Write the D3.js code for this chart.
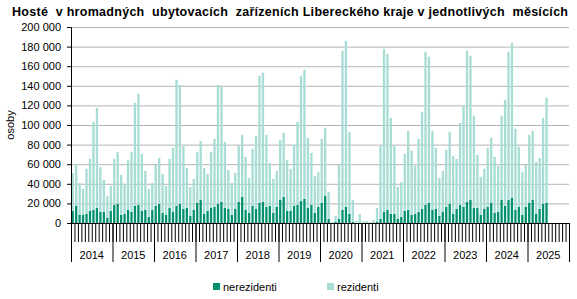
<!DOCTYPE html>
<html>
<head>
<meta charset="utf-8">
<script src="https://cdn.jsdelivr.net/npm/d3@7"></script>
<style>
  body { margin: 0; background: #fff; }
  svg { display: block; font-family: "Liberation Sans", Arial, sans-serif; }
  .title { font-weight: bold; font-size: 12.5px; white-space: pre; }
  .axis text { font-size: 11px; fill: #000; }
  .grid line { stroke: #b4b4b4; }
  .legend text { font-size: 11px; }
</style>
</head>
<body>
<svg width="577" height="299"></svg>
<script>
// data (osoby), Jan 2014 - Jun 2025
const years = ['2014', '2015', '2016', '2017', '2018', '2019', '2020', '2021', '2022', '2023', '2024', '2025'];
const monthsPerYear = 12;
const yTicks = [0, 20000, 40000, 60000, 80000, 100000, 120000, 140000, 160000, 180000, 200000];

const nerezidenti = [
    12300, 17700, 8200, 8200, 9500, 12300, 13300, 15300, 11200, 11200, 5500, 12300,
    18400, 19400, 8200, 9200, 13300, 11200, 17400, 18400, 12300, 13300, 6100, 13300,
    17400, 19400, 10200, 8200, 15300, 11200, 17400, 19400, 14300, 15300, 7200, 13300,
    20400, 23500, 9200, 12300, 15300, 16400, 19400, 21500, 15300, 14300, 8200, 14300,
    21500, 26600, 13300, 10200, 17400, 14300, 20400, 21500, 16400, 17400, 10200, 16400,
    23500, 26600, 12300, 12300, 17400, 18400, 22500, 24500, 15300, 18400, 10200, 16400,
    20400, 27600, 4100, 300, 1000, 4100, 13300, 16400, 9200, 1000, 300, 500,
    300, 300, 300, 500, 1000, 4100, 11200, 13300, 9200, 9200, 4100, 6100,
    12300, 13300, 8200, 9200, 11200, 14300, 18400, 20400, 13300, 14300, 7200, 11200,
    16400, 19400, 9200, 14300, 18400, 16400, 21500, 23500, 15300, 15300, 8200, 14300,
    16400, 20400, 10200, 11200, 23500, 17400, 23500, 25600, 13300, 16400, 8200, 16400,
    20400, 23500, 9200, 14300, 19400, 20400
];

const rezidenti = [
    38800, 42600, 32700, 26600, 45700, 53100, 89900, 102200, 46000, 32800, 22100, 25500,
    47000, 53200, 40800, 30700, 51100, 61400, 105300, 113500, 58200, 39800, 28700, 27600,
    41900, 47000, 39900, 29600, 50100, 65500, 128800, 121600, 64400, 40900, 29600, 31700,
    52200, 60300, 47000, 37800, 57300, 69500, 121600, 117500, 67500, 39900, 32700, 36800,
    57200, 63300, 54200, 35800, 58200, 74600, 129800, 131800, 73500, 43900, 34800, 36700,
    61300, 65400, 52100, 42900, 62300, 84800, 127700, 131900, 71600, 53100, 37800, 35700,
    65500, 69500, 27600, 700, 6200, 55200, 162500, 169600, 83800, 22500, 1700, 8700,
    1700, 1700, 700, 2500, 14300, 74600, 166600, 159400, 98100, 69500, 32700, 35800,
    58200, 80700, 65400, 49100, 74700, 99200, 156400, 149300, 80700, 62400, 38800, 41900,
    58200, 73600, 59300, 51100, 83800, 103200, 154300, 147200, 94100, 54200, 38800, 40900,
    60300, 66500, 57300, 47100, 85900, 108300, 151300, 158400, 82800, 61300, 43900, 42900,
    69500, 70500, 53100, 52100, 87900, 107400
];

const seriesNames = ['nerezidenti', 'rezidenti'];
const colors = ['#00916e', '#a7ddd4'];

const svg = d3.select('svg');
const plotLeft = 71, plotRight = 569, plotTop = 27, plotBottom = 223;
const nMonths = years.length * monthsPerYear;

const x = d3.scaleBand()
    .domain(d3.range(nMonths))
    .range([plotLeft, plotRight])
    .paddingInner(0.33)
    .paddingOuter(0.16);

const xLin = d3.scaleLinear().domain([0, nMonths]).range([plotLeft, plotRight]);
const xYear = d3.scaleBand().domain(years).range([plotLeft, plotRight]);

const y = d3.scaleLinear().domain([0, 200000]).range([plotBottom, plotTop]);

const fmt = d3.formatLocale({ decimal: ',', thousands: '\u00a0', grouping: [3], currency: ['', ' Kč'] }).format(',d');

// grid
svg.append('g')
    .attr('class', 'grid')
    .attr('transform', `translate(${plotLeft},0)`)
    .call(d3.axisLeft(y).tickValues(yTicks.slice(1)).tickSize(-(plotRight - plotLeft)).tickFormat(''))
    .call(g => g.select('.domain').remove());

// stacked bars
const table = d3.range(nMonths).map(i => ({
    i: i,
    nerezidenti: nerezidenti[i] === undefined ? 0 : nerezidenti[i],
    rezidenti: rezidenti[i] === undefined ? 0 : rezidenti[i]
}));
const stacked = d3.stack().keys(seriesNames)(table);

svg.append('g')
    .selectAll('g')
    .data(stacked)
    .enter()
    .append('g')
    .attr('fill', (d, k) => colors[k])
    .selectAll('rect')
    .data(d => d.filter(v => v.data.i < nerezidenti.length))
    .enter()
    .append('rect')
    .attr('x', d => x(d.data.i))
    .attr('width', x.bandwidth())
    .attr('y', d => y(d[1]))
    .attr('height', d => y(d[0]) - y(d[1]));

// y axis
svg.append('g')
    .attr('class', 'axis')
    .attr('transform', `translate(${plotLeft},0)`)
    .call(d3.axisLeft(y).tickValues(yTicks).tickSize(4).tickPadding(6).tickFormat(fmt))
    .call(g => g.selectAll('path, line').attr('stroke', '#000'));

// month ticks
svg.append('g')
    .attr('class', 'axis')
    .attr('transform', `translate(0,${plotBottom})`)
    .call(d3.axisBottom(xLin).tickValues(d3.range(nMonths + 1)).tickSize(19).tickSizeOuter(0).tickFormat(''))
    .call(g => g.selectAll('path, line').attr('stroke', '#000'));

// year ticks
svg.append('g')
    .attr('class', 'axis')
    .attr('transform', `translate(0,${plotBottom})`)
    .call(d3.axisBottom(xLin).tickValues(d3.range(0, nMonths + 1, monthsPerYear)).tickSize(39).tickFormat(''))
    .call(g => g.select('.domain').remove())
    .call(g => g.selectAll('line').attr('stroke', '#000'));

// year labels
svg.append('g')
    .attr('class', 'axis')
    .attr('transform', `translate(0,${plotBottom + 23})`)
    .call(d3.axisBottom(xYear).tickSize(0).tickPadding(5))
    .call(g => g.select('.domain').remove());

// title
svg.append('text')
    .attr('class', 'title')
    .attr('x', 12)
    .attr('y', 16)
    .attr('textLength', 556)
    .attr('lengthAdjust', 'spacing')
    .text('Hosté  v hromadných  ubytovacích  zařízeních Libereckého kraje v jednotlivých  měsících');

// y label
svg.append('text')
    .attr('transform', 'translate(14,125) rotate(-90)')
    .attr('text-anchor', 'middle')
    .style('font-size', '11px')
    .text('osoby');

// legend
const legendX = [213, 327];
const legend = svg.append('g').attr('class', 'legend');
seriesNames.forEach((name, k) => {
    legend.append('rect')
        .attr('x', legendX[k])
        .attr('y', 283)
        .attr('width', 7)
        .attr('height', 7)
        .attr('fill', colors[k]);
    legend.append('text')
        .attr('x', legendX[k] + 10)
        .attr('y', 291)
        .text(name);
});
</script>
</body>
</html>
